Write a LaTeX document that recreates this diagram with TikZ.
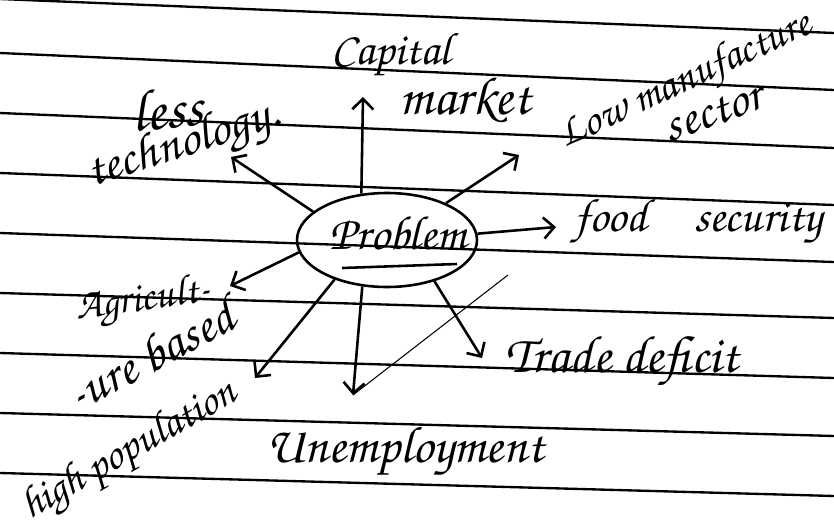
\documentclass[tikz,border=0pt]{standalone}
\usepackage[T1]{fontenc}
\usetikzlibrary{shapes.geometric,arrows.meta}
\newcommand{\hand}{\fontfamily{pzc}\selectfont}
\tikzset{
  word/.style={font=\hand\fontsize{#1}{#1}\selectfont, inner sep=0pt},
  word/.default=40,
  arr/.style={line width=2.2pt, -{Straight Barb[length=9pt,width=18pt,line width=2.2pt]}},
  ruling/.style={line width=2pt},
}
\begin{document}
\begin{tikzpicture}[x=0.03cm,y=-0.03cm]
\useasboundingbox (0,0) rectangle (834,530);
\foreach \a/\b in {-1/33,53/90,113/148,173/205,233/262,293/318,353/378,413/436,473/496}
  \draw[ruling] (0,\a) -- (834,\b);
\node[draw, ellipse, line width=2.2pt, minimum width=5.4cm, minimum height=2.82cm, inner sep=0pt] (1) at (387,240) {};
\node[word=41] (p) at (398,233) {Problem};
\path[draw,line width=2.2pt] (342,268) -- (457,264);
\node[word=39] (2) at (391,55) {Capital};
\node[word=46] (3) at (465,100) {market};
\node[word=50, rotate=5] (4) at (167,108) {less};
\node[word=43, rotate=18] (5) at (184,146) {technology.};
\node[word=37, rotate=25] (6) at (686,82) {Low manufacture};
\node[word=43, rotate=20] (7) at (713,112) {sector};
\node[word=40] (8) at (698,222) {food\quad security};
\node[word=36, rotate=8] (9) at (143,302) {Agricult-};
\node[word=44, rotate=28] (10) at (150,354) {-ure based};
\node[word=37, rotate=30] (11) at (130,452) {high population};
\node[word=44] (12) at (405,452) {Unemployment};
\node[word=45] (13) at (622,362) {Trade deficit};
\coordinate (t2) at (363,97);
\coordinate (t5) at (231,157);
\coordinate (t6) at (519,155);
\coordinate (t8) at (556,227);
\coordinate (t9) at (230,286);
\coordinate (t11) at (255,378);
\coordinate (t12) at (353,395);
\coordinate (t13) at (482,358);
\path[draw,arr] (1.119) -- (t2);
\path[draw,arr] (1.159) -- (t5);
\path[draw,arr] (1.32) -- (t6);
\path[draw,arr] (1.4) -- (t8);
\path[draw,arr] (1.188) -- (t9);
\path[draw,arr] (1.217) -- (t11);
\path[draw,arr] (1.242) -- (t12);
\path[draw,arr] (1.319) -- (t13);
\path[draw,line width=0.9pt] (508,275) -- (t12);
\end{tikzpicture}
\end{document}
